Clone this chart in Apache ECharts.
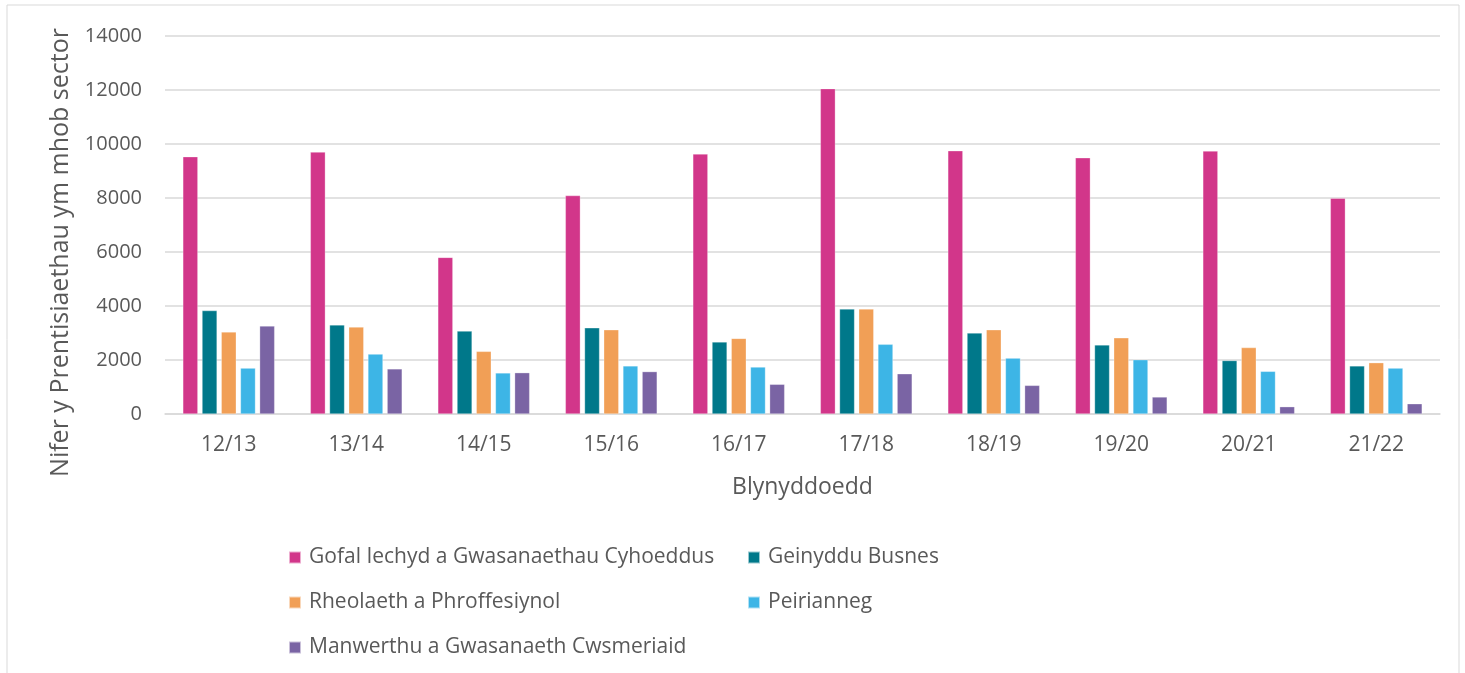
<!DOCTYPE html>
<html>
<head>
<meta charset="utf-8">
<script src="https://cdn.jsdelivr.net/npm/echarts@6/dist/echarts.min.js"></script>
<style>
  html, body { margin: 0; padding: 0; background: #fff; }
  #chart { width: 1465px; height: 673px; }
</style>
</head>
<body>
<div id="chart"></div>
<script>
// Blynyddoedd (categori)
const years = ["12/13", "13/14", "14/15", "15/16", "16/17", "17/18", "18/19", "19/20", "20/21", "21/22"];

const sectorNames = [
  "Gofal Iechyd a Gwasanaethau Cyhoeddus",
  "Geinyddu Busnes",
  "Rheolaeth a Phroffesiynol",
  "Peirianneg",
  "Manwerthu a Gwasanaeth Cwsmeriaid"
];

const gofalIechyd = [9530, 9700, 5800, 8090, 9630, 12050, 9750, 9490, 9740, 7990];
const geinydduBusnes = [3830, 3300, 3070, 3190, 2670, 3890, 3000, 2560, 1980, 1780];
const rheolaeth = [3040, 3220, 2320, 3120, 2800, 3890, 3120, 2820, 2460, 1900];
const peirianneg = [1700, 2220, 1520, 1780, 1740, 2580, 2070, 2010, 1580, 1700];
const manwerthu = [3260, 1670, 1530, 1570, 1100, 1490, 1060, 630, 270, 380];

const colours = ["#D2368A", "#00788A", "#F19F56", "#3DB5E6", "#7A64A4"];

const chart = echarts.init(document.getElementById("chart"));

const makeSeries = (name, data, color) => ({
  name: name,
  type: "bar",
  data: data,
  barWidth: 15,
  barGap: "28%",
  itemStyle: { color: color, borderColor: "rgba(255,255,255,0.6)", borderWidth: 0.5 },
});

const legendText = { color: "#595959", fontSize: 21, fontFamily: "Open Sans", padding: [0, 0, 0, 3] };

const option = {
  animation: false,
  textStyle: { fontFamily: "Open Sans" },
  graphic: [
    {
      type: "rect",
      shape: { x: 7, y: 5, width: 1452, height: 700 },
      style: { fill: "none", stroke: "#d9d9d9", lineWidth: 1 },
      silent: true,
    },
  ],
  grid: { left: 165, right: 25, top: 36, height: 378, containLabel: false },
  xAxis: {
    type: "category",
    data: years,
    name: "Blynyddoedd",
    nameLocation: "middle",
    nameGap: 62,
    nameTextStyle: { color: "#595959", fontSize: 23 },
    axisLine: { lineStyle: { color: "#d9d9d9", width: 1.5 } },
    axisTick: { show: false },
    axisLabel: { color: "#595959", fontSize: 21, margin: 21 },
  },
  yAxis: {
    type: "value",
    min: 0,
    max: 14000,
    interval: 2000,
    name: "Nifer y Prentisiaethau ym mhob sector",
    nameLocation: "middle",
    nameGap: 92,
    nameTextStyle: { color: "#595959", fontSize: 25, padding: [0, 55, 0, 0] },
    axisLine: { show: false },
    axisTick: { show: false },
    axisLabel: { color: "#595959", fontSize: 20, margin: 23, formatter: (v) => String(v) },
    splitLine: { lineStyle: { color: "#d9d9d9", width: 1.5 } },
  },
  legend: [
    {
      orient: "vertical",
      left: 283,
      top: 542,
      itemWidth: 12,
      itemHeight: 12,
      itemGap: 24,
      icon: "rect",
      textStyle: legendText,
      data: [sectorNames[0], sectorNames[2], sectorNames[4]],
    },
    {
      orient: "vertical",
      left: 742,
      top: 542,
      itemWidth: 12,
      itemHeight: 12,
      itemGap: 24,
      icon: "rect",
      textStyle: legendText,
      data: [sectorNames[1], sectorNames[3]],
    },
  ],
  series: [
    makeSeries(sectorNames[0], gofalIechyd, colours[0]),
    makeSeries(sectorNames[1], geinydduBusnes, colours[1]),
    makeSeries(sectorNames[2], rheolaeth, colours[2]),
    makeSeries(sectorNames[3], peirianneg, colours[3]),
    makeSeries(sectorNames[4], manwerthu, colours[4]),
  ],
};

chart.setOption(option);
</script>
</body>
</html>
